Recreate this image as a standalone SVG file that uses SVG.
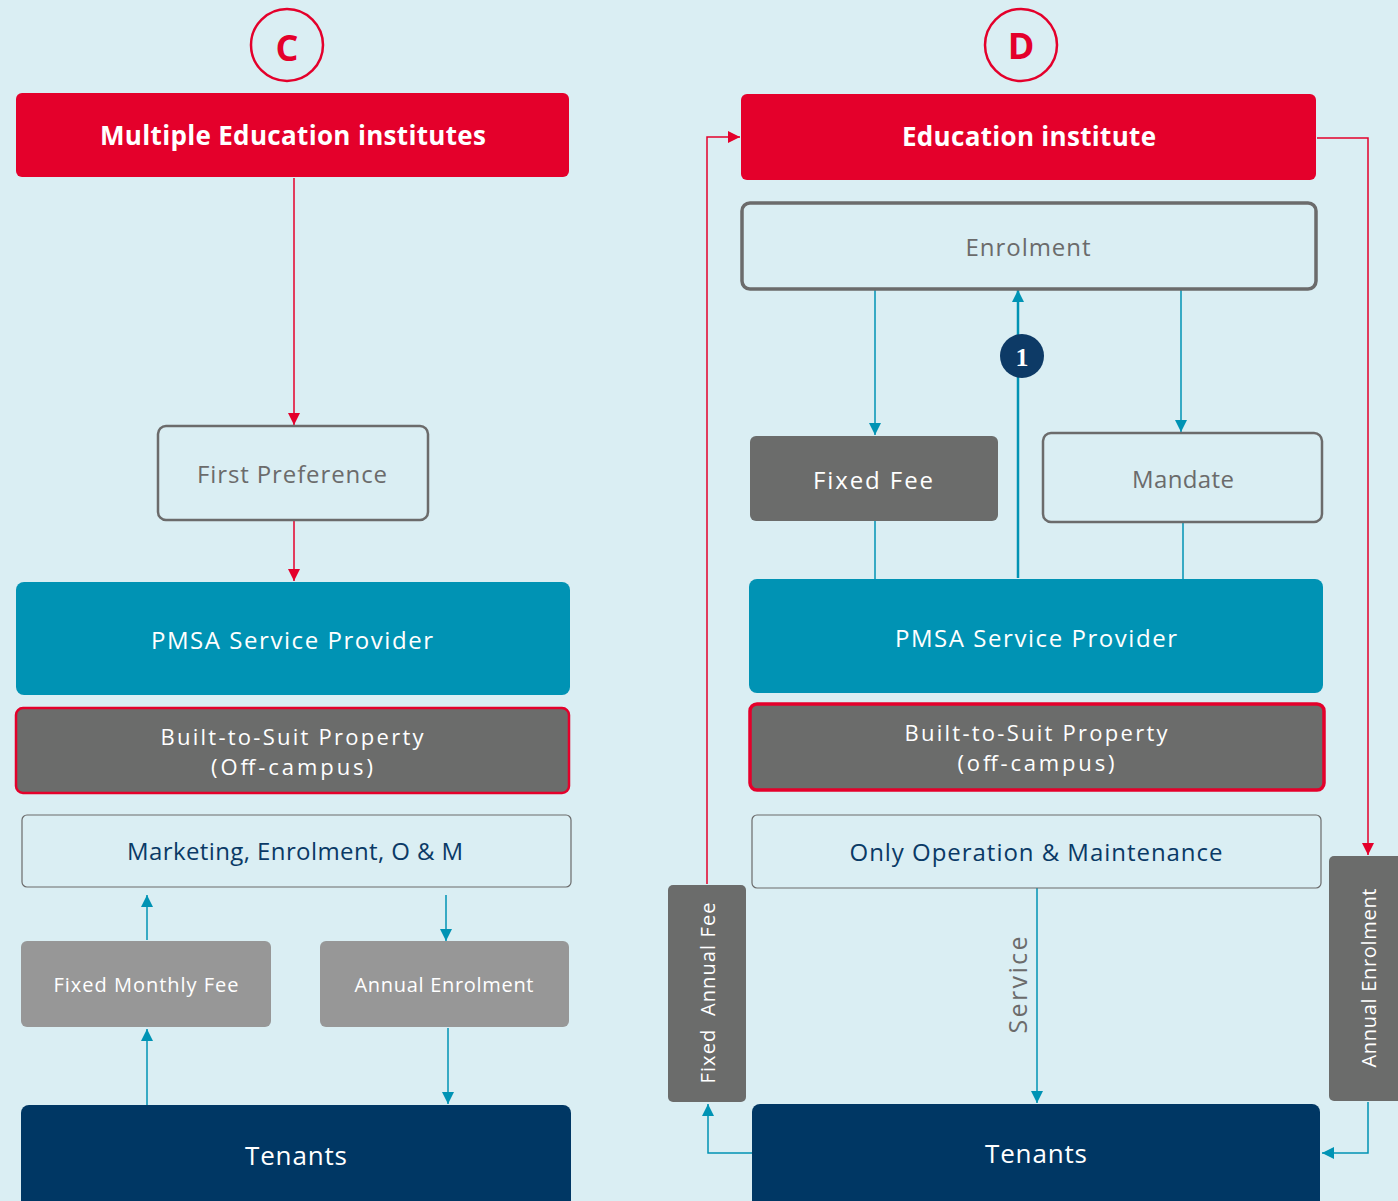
<svg xmlns="http://www.w3.org/2000/svg" width="1398" height="1201" viewBox="0 0 1398 1201">
<style>
text{font-family:"Open Sans","Liberation Sans",sans-serif;text-anchor:middle;dominant-baseline:central}
.red{fill:#e4002b}
.teal{fill:#0093b4}
.navy{fill:#003764}
.dgray{fill:#6b6c6b}
.lgray{fill:#979797}
.outl{fill:none;stroke:#6b6b6b}
.w{fill:#fff}
.g{fill:#6b6b6b}
.b{fill:#0a3a66}
.title{font-weight:700;font-size:26px;fill:#fff}
.lbl{font-size:24px}
.two{font-size:22px}
.sm{font-size:20px}
.cr{stroke:#e4002b;stroke-width:1.5;fill:none}
.ct{stroke:#0093b4;stroke-width:1.5;fill:none}
</style>
<defs>
<marker id="ar" viewBox="0 0 10 10" refX="10" refY="5" markerWidth="12" markerHeight="12" markerUnits="userSpaceOnUse" orient="auto"><path d="M0,0L10,5L0,10z" fill="#e4002b"/></marker>
<marker id="at" viewBox="0 0 10 10" refX="10" refY="5" markerWidth="12" markerHeight="12" markerUnits="userSpaceOnUse" orient="auto"><path d="M0,0L10,5L0,10z" fill="#0093b4"/></marker>
</defs>
<rect width="1398" height="1201" fill="#daeef3"/>

<g id="badgeC"><circle cx="287" cy="45" r="36" fill="none" stroke="#e4002b" stroke-width="2.5"/><text x="287" y="47" style="font-size:36px;font-weight:700;fill:#e4002b">C</text></g>
<g id="badgeD"><circle cx="1021" cy="45" r="36" fill="none" stroke="#e4002b" stroke-width="2.5"/><text x="1021" y="45" style="font-size:36px;font-weight:700;fill:#e4002b">D</text></g>

<g id="connectors">
<path class="cr" d="M294,178V425" marker-end="url(#ar)"/>
<path class="cr" d="M294,521V581" marker-end="url(#ar)"/>
<path class="ct" d="M147,940V895" marker-end="url(#at)"/>
<path class="ct" d="M446,895V941" marker-end="url(#at)"/>
<path class="ct" d="M147,1105V1029" marker-end="url(#at)"/>
<path class="ct" d="M448,1028V1104" marker-end="url(#at)"/>

<path class="ct" d="M875,290V435" marker-end="url(#at)"/>
<path class="ct" d="M1181,290V432" marker-end="url(#at)"/>
<path class="ct" d="M875,521V579"/>
<path class="ct" d="M1183,522V579"/>
<path class="ct" d="M1018,578V290" style="stroke-width:2.5" marker-end="url(#at)"/>
<path class="ct" d="M1037,888V1103" marker-end="url(#at)"/>
<path class="cr" d="M1317,138H1368V855" marker-end="url(#ar)"/>
<path class="cr" d="M707,884V137H740" marker-end="url(#ar)"/>
<path class="ct" d="M752,1153H708V1104" marker-end="url(#at)"/>
<path class="ct" d="M1368,1102V1153H1322" marker-end="url(#at)"/>
</g>

<g id="c-multiple"><rect class="red" x="16" y="93" width="553" height="84" rx="6"/><text class="title" x="293" y="135" textLength="386" lengthAdjust="spacing">Multiple Education institutes</text></g>
<g id="c-first"><rect class="outl" x="158" y="426" width="270" height="94" rx="8" stroke-width="2.5"/><text class="lbl g" x="292" y="473" textLength="190" lengthAdjust="spacing">First Preference</text></g>
<g id="c-pmsa"><rect class="teal" x="16" y="582" width="554" height="113" rx="8"/><text class="lbl w" x="292" y="639" textLength="282" lengthAdjust="spacing">PMSA Service Provider</text></g>
<g id="c-bts"><rect class="dgray" x="16" y="708" width="553" height="85" rx="7" stroke="#e4002b" stroke-width="2.5"/><text class="two w" x="292" y="736" textLength="263" lengthAdjust="spacing">Built-to-Suit Property</text><text class="two w" x="292" y="766" textLength="162" lengthAdjust="spacing">(Off-campus)</text></g>
<g id="c-marketing"><rect x="22" y="815" width="549" height="72" rx="5" fill="none" stroke="#6b6b6b" stroke-width="1.2"/><text class="lbl b" x="295" y="850" textLength="336" lengthAdjust="spacing">Marketing, Enrolment, O &amp; M</text></g>
<g id="c-fmf"><rect class="lgray" x="21" y="941" width="250" height="86" rx="6"/><text class="sm w" x="146" y="984" textLength="185" lengthAdjust="spacing">Fixed Monthly Fee</text></g>
<g id="c-ae"><rect class="lgray" x="320" y="941" width="249" height="86" rx="6"/><text class="sm w" x="444" y="984" textLength="179" lengthAdjust="spacing">Annual Enrolment</text></g>
<g id="c-tenants"><rect class="navy" x="21" y="1105" width="550" height="110" rx="8"/><text class="w" x="296" y="1155" style="font-size:26px" textLength="102" lengthAdjust="spacing">Tenants</text></g>

<g id="d-edu"><rect class="red" x="741" y="94" width="575" height="86" rx="6"/><text class="title" x="1029" y="136" textLength="254" lengthAdjust="spacing">Education institute</text></g>
<g id="d-enrol"><rect class="outl" x="742" y="203" width="574" height="86" rx="8" stroke-width="3.5"/><text class="lbl g" x="1028" y="246" textLength="125" lengthAdjust="spacing">Enrolment</text></g>
<g id="d-one"><circle cx="1022" cy="356" r="22" fill="#0d3a66"/><text x="1022" y="357" style="font-family:'Liberation Serif',serif;font-weight:700;font-size:26px;fill:#fff">1</text></g>
<g id="d-fixedfee"><rect class="dgray" x="750" y="436" width="248" height="85" rx="6"/><text class="lbl w" x="873" y="479" textLength="120" lengthAdjust="spacing">Fixed Fee</text></g>
<g id="d-mandate"><rect class="outl" x="1043" y="433" width="279" height="89" rx="8" stroke-width="2.5"/><text class="lbl g" x="1183" y="478" textLength="102" lengthAdjust="spacing">Mandate</text></g>
<g id="d-pmsa"><rect class="teal" x="749" y="579" width="574" height="114" rx="8"/><text class="lbl w" x="1036" y="637" textLength="282" lengthAdjust="spacing">PMSA Service Provider</text></g>
<g id="d-bts"><rect class="dgray" x="750" y="704" width="574" height="86" rx="7" stroke="#e4002b" stroke-width="3.5"/><text class="two w" x="1036" y="732" textLength="263" lengthAdjust="spacing">Built-to-Suit Property</text><text class="two w" x="1036" y="762" textLength="157" lengthAdjust="spacing">(off-campus)</text></g>
<g id="d-om"><rect x="752" y="815" width="569" height="73" rx="5" fill="none" stroke="#6b6b6b" stroke-width="1.2"/><text class="lbl b" x="1036" y="851" textLength="373" lengthAdjust="spacing">Only Operation &amp; Maintenance</text></g>
<g id="d-service"><text class="g" transform="translate(1017,985) rotate(-90)" style="font-size:25px" textLength="97" lengthAdjust="spacing">Service</text></g>
<g id="d-faf"><rect class="dgray" x="668" y="885" width="78" height="217" rx="5"/><text class="sm w" transform="translate(707,993) rotate(-90)" textLength="181" lengthAdjust="spacing" xml:space="preserve">Fixed  Annual Fee</text></g>
<g id="d-ae"><rect class="dgray" x="1329" y="856" width="80" height="245" rx="5"/><text class="sm w" transform="translate(1368,978) rotate(-90)" textLength="179" lengthAdjust="spacing">Annual Enrolment</text></g>
<g id="d-tenants"><rect class="navy" x="752" y="1104" width="568" height="110" rx="8"/><text class="w" x="1036" y="1153" style="font-size:26px" textLength="102" lengthAdjust="spacing">Tenants</text></g>
</svg>
